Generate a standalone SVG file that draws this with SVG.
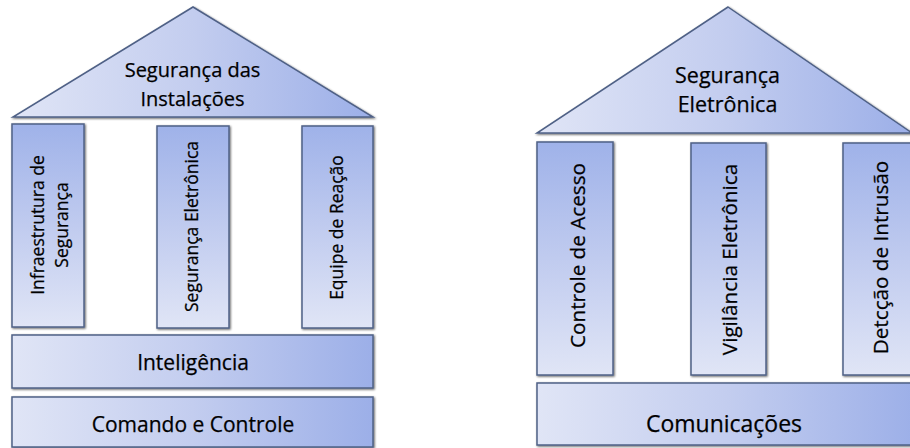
<svg xmlns="http://www.w3.org/2000/svg" width="910" height="448" viewBox="0 0 910 448">
<defs>
<linearGradient id="gh" x1="0" y1="0" x2="1" y2="0">
<stop offset="0" stop-color="#e0e5f6"/><stop offset="0.5" stop-color="#c3cdef"/><stop offset="1" stop-color="#9cafe8"/>
</linearGradient>
<linearGradient id="gv" x1="0" y1="0" x2="0" y2="1">
<stop offset="0" stop-color="#9fb2e9"/><stop offset="0.5" stop-color="#c0cbef"/><stop offset="1" stop-color="#e0e5f6"/>
</linearGradient>
<filter id="sh" x="-10%" y="-10%" width="120%" height="120%">
<feGaussianBlur in="SourceAlpha" stdDeviation="1.2"/>
<feOffset dx="0.5" dy="0.8" result="b"/>
<feComponentTransfer><feFuncA type="linear" slope="0.6"/></feComponentTransfer>
<feMerge><feMergeNode/><feMergeNode in="SourceGraphic"/></feMerge>
</filter>
</defs>
<style>
.h{fill:url(#gh);stroke:#4f6186;stroke-width:1.5;filter:url(#sh)}
.v{fill:url(#gv);stroke:#4f6186;stroke-width:1.5;filter:url(#sh)}
text{font-family:"Open Sans","Noto Sans","Liberation Sans",sans-serif;fill:#000;stroke:#000;stroke-width:0.25;text-anchor:middle}
.lr{font-size:20px}.lp{font-size:17.5px}.lb{font-size:21px}
.rr{font-size:21.5px}.rp{font-size:20.7px}.rb{font-size:23px}
</style>
<rect width="910" height="448" fill="#fff"/>
<g id="left-roof"><polygon class="h" points="193,7 373,117 13,117"/>
<text class="lr" x="192.5" y="77">Segurança das</text><text class="lr" x="192.5" y="106">Instalações</text></g>
<g id="left-p1"><rect class="v" x="12" y="124" width="72" height="203"/>
<text class="lp" transform="translate(44,225) rotate(-90)">Infraestrutura de</text>
<text class="lp" transform="translate(68,225) rotate(-90)">Segurança</text></g>
<g id="left-p2"><rect class="v" x="157" y="126" width="72" height="202"/>
<text class="lp" transform="translate(198,226.5) rotate(-90)">Segurança Eletrônica</text></g>
<g id="left-p3"><rect class="v" x="302" y="126" width="71" height="202"/>
<text class="lp" transform="translate(343,227.5) rotate(-90)">Equipe de Reação</text></g>
<g id="left-int"><rect class="h" x="12" y="335" width="361" height="53"/>
<text class="lb" x="193" y="370">Inteligência</text></g>
<g id="left-cc"><rect class="h" x="12" y="397" width="361" height="50"/>
<text class="lb" x="193" y="432">Comando e Controle</text></g>
<g id="right-roof"><polygon class="h" points="728,7 912,133 537,133"/>
<text class="rr" x="727.5" y="83">Segurança</text><text class="rr" x="727.5" y="112">Eletrônica</text></g>
<g id="right-p1"><rect class="v" x="537" y="142" width="76" height="233"/>
<text class="rp" transform="translate(585,255.5) rotate(-90)">Controle de Acesso</text></g>
<g id="right-p2"><rect class="v" x="691" y="143" width="75" height="232"/>
<text class="rp" transform="translate(737,259.5) rotate(-90)">Vigilância Eletrônica</text></g>
<g id="right-p3"><rect class="v" x="843" y="143" width="75" height="232"/>
<text class="rp" transform="translate(888,257.5) rotate(-90)">Detcção de Intrusão</text></g>
<g id="right-com"><rect class="h" x="537" y="383" width="380" height="62"/>
<text class="rb" x="724" y="432">Comunicações</text></g>
<g id="connectors"/>
</svg>
